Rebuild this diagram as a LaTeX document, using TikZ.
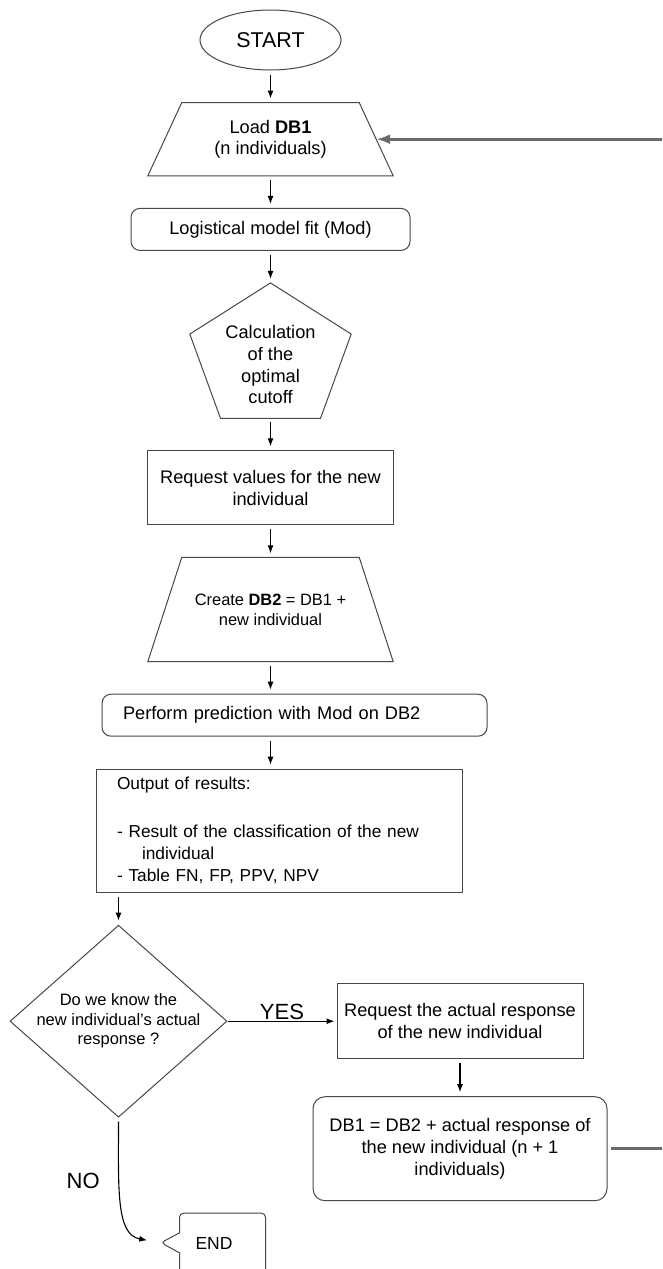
\documentclass[tikz,border=0pt]{standalone}
\usepackage{fontspec}
\setmainfont{Liberation Sans}
\usetikzlibrary{arrows.meta,positioning,calc,shapes.geometric,shapes.callouts}
\definecolor{EdgeGray}{HTML}{474747}
\definecolor{BackGray}{HTML}{6B6B6B}

\begin{document}
\begin{tikzpicture}[
    x=1pt, y=-1pt,
    font=\fontsize{18.2}{21.8}\selectfont,
    node distance=32pt,
    % formes du logigramme
    terminal/.style={ellipse, draw=EdgeGray, line width=1pt, minimum width=141pt, minimum height=60pt, inner sep=0pt},
    dataio/.style={rectangle, minimum width=245pt, align=center, inner sep=0pt},
    process/.style={rectangle, rounded corners=9pt, draw=EdgeGray, line width=1pt, minimum height=42pt, inner sep=0pt},
    plainbox/.style={rectangle, draw=EdgeGray, line width=1pt, align=center, inner sep=0pt},
    decision/.style={diamond, aspect=1.13, draw=EdgeGray, line width=1pt, align=center, inner sep=-4pt, minimum width=217pt, minimum height=192pt},
    outline/.style={draw=EdgeGray, line width=1pt},
    % connecteurs
    arrow/.style={-{Latex[length=8pt,width=6pt]}, line width=1.1pt, shorten <=4pt, shorten >=4pt},
    backflow/.style={-{Latex[length=14pt,width=10pt]}, line width=3.2pt, draw=BackGray},
    bigword/.style={font=\fontsize{22}{26}\selectfont}
]
\useasboundingbox (0,0) rectangle (662,1269);
\clip (0,0) rectangle (662,1269);

% colonne principale
\node[terminal, font=\fontsize{21.4}{25}\selectfont] (start) at (270.5,40) {START};
\node[dataio, minimum height=73pt, below=of start] (load) {Load \textbf{DB1}\\(n individuals)};
\node[process, minimum width=279pt, below=of load] (logfit) {Logistical model fit (Mod)};
\node[minimum width=161pt, minimum height=135pt, inner sep=0pt, below=of logfit] (cutoff) {};
\node[align=center] (cutofftxt) at ($(cutoff.center)+(0,14)$) {Calculation\\of the\\optimal\\cutoff};
\node[plainbox, minimum width=246pt, minimum height=74pt, below=of cutoff] (values) {Request values for the new\\individual};
\node[dataio, minimum height=104pt, below=of values, font=\fontsize{16.4}{20}\selectfont] (create) {Create \textbf{DB2} = DB1 +\\new individual};
\node[process, text width=343pt, inner xsep=21pt, align=left, below=of create, xshift=24pt] (predict) {Perform prediction with Mod on DB2};
\node[plainbox, align=left, text width=324pt, inner xsep=21pt, minimum height=123pt, below=of predict, xshift=-15.5pt, font=\fontsize{17.3}{22}\selectfont] (results) {Output of results:\\[26pt]- Result of the classification of the new\\\hspace*{25pt}individual\\- Table FN, FP, PPV, NPV};

% test et branches
\node[decision, below=of results.south west, xshift=23pt, font=\fontsize{16.5}{19.5}\selectfont] (known) {Do we know the\\new individual's actual\\response ?};
\node[plainbox, minimum width=246pt, minimum height=75pt, right=109pt of known] (askresp) {Request the actual response\\of the new individual};
\node[process, rounded corners=12pt, align=center, minimum width=294pt, minimum height=104pt, below=37pt of askresp] (update) {DB1 = DB2 + actual response of\\the new individual (n + 1\\individuals)};
\coordinate (endtip) at ($(known.south)+(42.5,125)$);
\node[rectangle callout, outline, rounded corners=4pt, minimum width=86pt, minimum height=60pt, text width=54pt, inner xsep=16pt, align=left, callout absolute pointer={(endtip)}, callout pointer width=20pt, font=\fontsize{17.5}{21}\selectfont, below right=95pt and 60.5pt of known.south] (finish) {END};

% contours des trapezes et du pentagone
\draw[outline] (load.south west) -- ($(load.north west)+(34,0)$) -- ($(load.north east)+(-34,0)$) -- (load.south east) -- cycle;
\draw[outline] (create.south west) -- ($(create.north west)+(34,0)$) -- ($(create.north east)+(-34,0)$) -- (create.south east) -- cycle;
\draw[outline] (cutoff.north) -- ($(cutoff.north east)!0.378!(cutoff.south east)$) -- ($(cutoff.south)+(50,0)$) -- ($(cutoff.south)+(-50,0)$) -- ($(cutoff.north west)!0.378!(cutoff.south west)$) -- cycle;

% flux principal
\draw[arrow] (start) -- (load);
\draw[arrow] (load) -- (logfit);
\draw[arrow] (logfit) -- (cutoff);
\draw[arrow] (cutoff) -- (values);
\draw[arrow] (values) -- (create);
\draw[arrow] (create.south) -- (predict.north -| create.south);
\draw[arrow] (predict.south -| create.south) -- (results.north -| create.south);
\draw[arrow] (known.north |- results.south) -- (known.north);
\draw[arrow, shorten <=0pt, shorten >=2pt] (known.east) -- node[above, inner sep=1pt, bigword] {YES} (askresp.west);
\draw[arrow] (askresp) -- (update);
\draw[arrow, shorten >=14pt] (known.south) .. controls +(0,72) and +(-45,-8) .. node[pos=0.34, left=16pt, bigword] {NO} (endtip);

% retour vers DB1
\draw[backflow, shorten <=3pt] (update.east) -- ++(80,0) |- ($(load.east)+(-17,0)$);

\end{tikzpicture}
\end{document}
